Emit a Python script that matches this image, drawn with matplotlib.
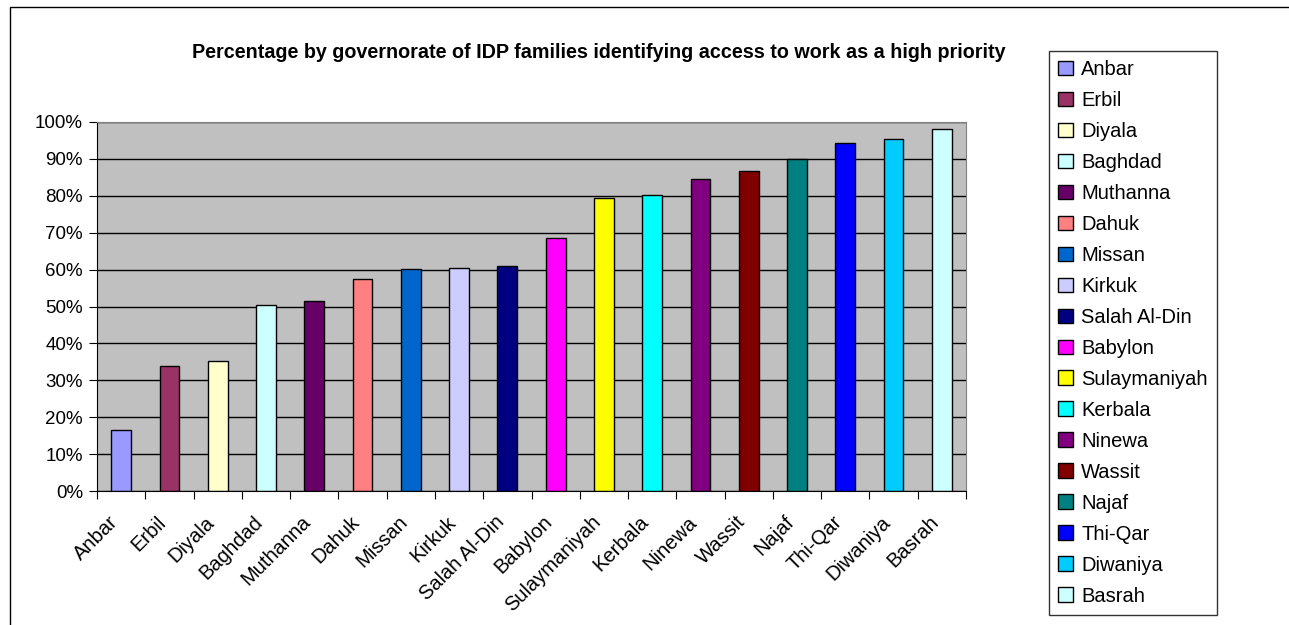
import matplotlib.pyplot as plt
from matplotlib.patches import Rectangle
from matplotlib.ticker import FuncFormatter, MultipleLocator
from matplotlib.transforms import ScaledTranslation

plt.rcParams['font.family'] = ['Liberation Sans', 'DejaVu Sans']

governorates = ["Anbar", "Erbil", "Diyala", "Baghdad", "Muthanna", "Dahuk", "Missan",
                "Kirkuk", "Salah Al-Din", "Babylon", "Sulaymaniyah", "Kerbala", "Ninewa",
                "Wassit", "Najaf", "Thi-Qar", "Diwaniya", "Basrah"]
percent = [16.4, 33.8, 35.3, 50.4, 51.4, 57.4, 60.1, 60.4, 61.0, 68.5, 79.3, 80.1,
           84.5, 86.8, 90.1, 94.4, 95.4, 98.0]
colors = ["#9999FF", "#993366", "#FFFFCC", "#CCFFFF", "#660066", "#FF8080", "#0066CC",
          "#CCCCFF", "#000080", "#FF00FF", "#FFFF00", "#00FFFF", "#800080", "#800000",
          "#008080", "#0000FF", "#00CCFF", "#CCFFFF"]

fig = plt.figure(figsize=(12.89, 6.25), dpi=100)
ax = fig.add_axes([97 / 1289, 1 - 491 / 625, (966 - 97) / 1289, (491 - 122) / 625])

ax.set_facecolor("#C0C0C0")
ax.set_axisbelow(True)
ax.yaxis.grid(True, color="black", linewidth=1)

handles = []
for i, (val, col) in enumerate(zip(percent, colors)):
    b = ax.bar(i, val, width=0.41, color=col, edgecolor="black", linewidth=1)
    handles.append(b[0])

ax.set_xlim(-0.5, len(governorates) - 0.5)
ax.set_ylim(0, 100)
ax.yaxis.set_major_locator(MultipleLocator(10))
ax.yaxis.set_major_formatter(FuncFormatter(lambda v, p: f"{v:.0f}%"))

# Excel style: ticks between categories, labels centred on bars
ax.set_xticks([i - 0.5 for i in range(len(governorates) + 1)])
ax.set_xticklabels([])
ax.set_xticks(range(len(governorates)), minor=True)
ax.set_xticklabels(governorates, minor=True, rotation=45, ha="right",
                   rotation_mode="anchor", fontsize=14.5)
ax.tick_params(axis="x", which="minor", length=0, pad=14)
ax.tick_params(axis="x", which="major", length=6, direction="out", color="black")
ax.tick_params(axis="y", length=6, direction="out", labelsize=13.5, pad=4)
shift = ScaledTranslation(-0.13, -0.02, fig.dpi_scale_trans)
for lbl in ax.get_xticklabels(minor=True):
    lbl.set_transform(lbl.get_transform() + shift)

for side in ["top", "right"]:
    ax.spines[side].set_color("#808080")
ax.spines["left"].set_color("black")
ax.spines["bottom"].set_color("black")

fig.text(599 / 1289, 1 - 52 / 625, "Percentage by governorate of IDP families identifying access to work as a high priority",
         ha="center", va="center", fontsize=14.2, fontweight="bold")

leg = fig.legend(handles=handles, labels=governorates, loc="upper left",
                 bbox_to_anchor=(1049 / 1289, 1 - 51 / 625),
                 fontsize=14.5, frameon=True, fancybox=False, edgecolor="black",
                 handlelength=0.75, handleheight=0.75, handletextpad=0.4,
                 labelspacing=0.595, borderpad=0.45, borderaxespad=0)
leg.get_frame().set_linewidth(1)

fig.patches.append(Rectangle((9.5 / 1289, -0.1), 1.2, 1 - 7 / 625 + 0.1,
                             transform=fig.transFigure, fill=False,
                             edgecolor="black", linewidth=1))

fig.savefig("out.png", dpi=100)
